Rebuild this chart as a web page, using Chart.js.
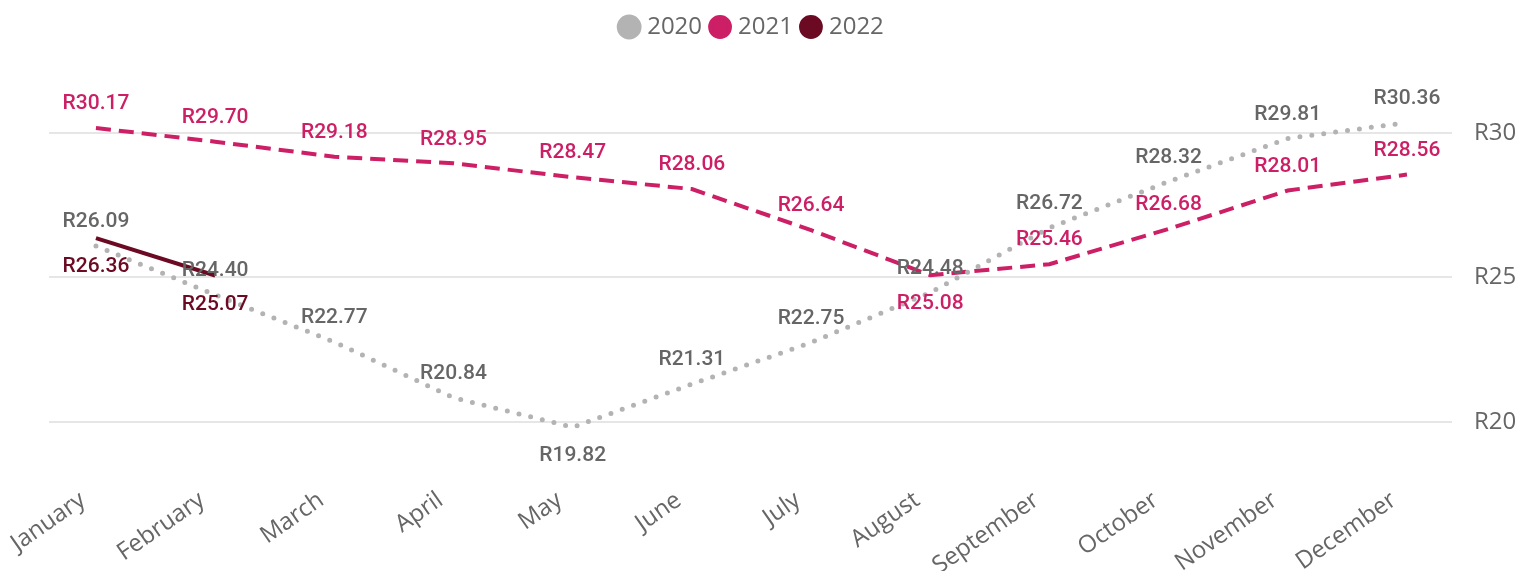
<!DOCTYPE html>
<html>
<head>
<meta charset="utf-8">
<script src="https://cdn.jsdelivr.net/npm/chart.js@4"></script>
<style>
  html, body { margin: 0; padding: 0; background: #fff; }
  #wrap { width: 1533px; height: 571px; }
</style>
</head>
<body>
<div id="wrap"><canvas id="grafico"></canvas></div>
<script>
const months = ['January', 'February', 'March', 'April', 'May', 'June', 'July',
  'August', 'September', 'October', 'November', 'December'];
const values2020 = [26.09, 24.40, 22.77, 20.84, 19.82, 21.31, 22.75, 24.48, 26.72, 28.32, 29.81, 30.36];
const values2021 = [30.17, 29.70, 29.18, 28.95, 28.47, 28.06, 26.64, 25.08, 25.46, 26.68, 28.01, 28.56];
const values2022 = [26.36, 25.07];
const yTicks = [20, 25, 30];

// which labels go under the point (per dataset index)
const labelBelow = { 0: [4], 1: [7], 2: [0, 1] };
const labelColors = ['#666666', '#cc1f66', '#6b0a22'];

const puntos = arr => arr.map((v, i) => ({ x: i, y: v }));

const etiquetas = {
  id: 'etiquetas',
  afterDatasetsDraw(chart) {
    const ctx = chart.ctx;
    ctx.save();
    ctx.font = '500 21px Roboto';
    ctx.textAlign = 'center';
    ctx.textBaseline = 'middle';
    chart.data.datasets.forEach((ds, di) => {
      const meta = chart.getDatasetMeta(di);
      meta.data.forEach((pt, i) => {
        const below = (labelBelow[di] || []).includes(i);
        ctx.fillStyle = labelColors[di];
        ctx.fillText('R' + ds.data[i].y.toFixed(2), pt.x, pt.y + (below ? 29 : -24));
      });
    });
    ctx.restore();
  }
};

// the original legend sits a little left of the page centre
const moverLeyenda = {
  id: 'moverLeyenda',
  afterLayout(chart) {
    if (chart.legend) {
      chart.legend.left -= 13;
      chart.legend.right -= 13;
    }
  }
};

new Chart(document.getElementById('grafico'), {
  type: 'line',
  data: {
    datasets: [
      {
        label: '2020', data: puntos(values2020),
        borderColor: '#b3b3b3', backgroundColor: '#b3b3b3',
        borderWidth: 5, borderDash: [0, 12], borderCapStyle: 'round'
      },
      {
        label: '2021', data: puntos(values2021),
        borderColor: '#cc1f66', backgroundColor: '#cc1f66',
        borderWidth: 4, borderDash: [15, 8]
      },
      {
        label: '2022', data: puntos(values2022),
        borderColor: '#6b0a22', backgroundColor: '#6b0a22',
        borderWidth: 4
      }
    ]
  },
  options: {
    responsive: true,
    maintainAspectRatio: false,
    animation: false,
    elements: { point: { radius: 0, hoverRadius: 0 }, line: { tension: 0 } },
    layout: { padding: { left: 0, right: 0, top: 3 } },
    plugins: {
      tooltip: { enabled: false },
      legend: {
        position: 'top',
        labels: {
          usePointStyle: true, pointStyle: 'circle',
          boxWidth: 12, boxHeight: 14, padding: 12,
          color: '#666666', font: { family: 'Open Sans', size: 24 }
        }
      }
    },
    scales: {
      x: {
        type: 'linear', min: -0.394, max: 11.378,
        grid: { display: false }, border: { display: false },
        afterFit: s => { s.height = 101; },
        ticks: {
          stepSize: 1, includeBounds: false, autoSkip: false, maxTicksLimit: 20,
          minRotation: 35, maxRotation: 35, padding: 8, labelOffset: -13,
          color: '#666666', font: { family: 'Open Sans', size: 24 },
          callback: v => Number.isInteger(v) ? months[v] : ''
        }
      },
      y: {
        position: 'right', min: 18.34, max: 32.905,
        border: { display: false },
        grid: { color: '#e6e6e6', lineWidth: 2, drawTicks: false },
        afterFit: s => { s.width = 81; },
        afterBuildTicks: s => { s.ticks = yTicks.map(v => ({ value: v })); },
        ticks: {
          padding: 22, color: '#666666', font: { family: 'Open Sans', size: 24 },
          callback: v => 'R' + v
        }
      },
      // empty left margin
      yl: {
        position: 'left', display: true,
        grid: { display: false }, border: { display: false },
        ticks: { display: false },
        afterFit: s => { s.width = 49; }
      }
    }
  },
  plugins: [etiquetas, moverLeyenda]
});
</script>
</body>
</html>
